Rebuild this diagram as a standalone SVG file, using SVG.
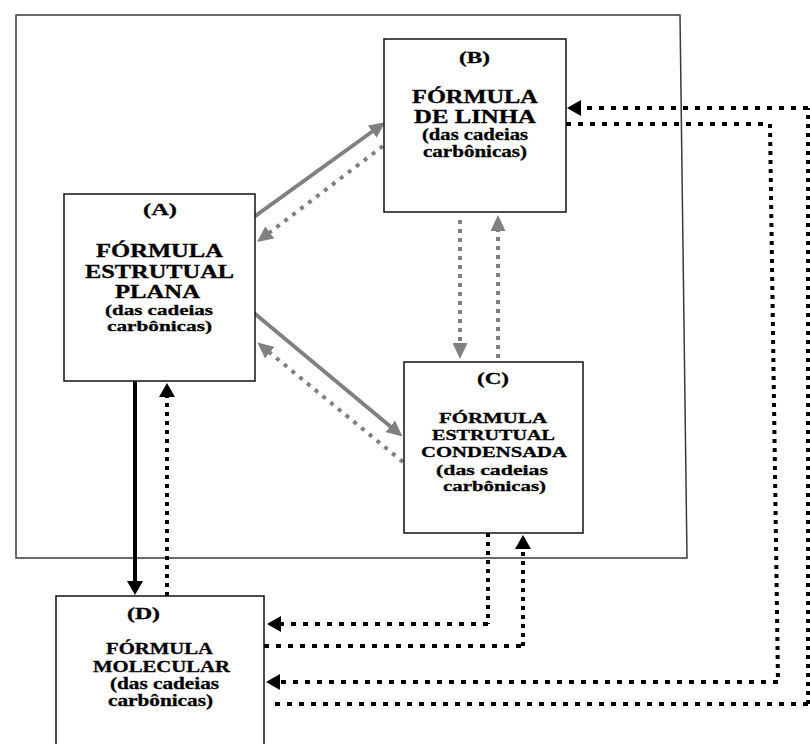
<svg xmlns="http://www.w3.org/2000/svg" width="810" height="744" viewBox="0 0 810 744">
  <defs>
    <style>
      .frame { fill: none; stroke: #3a3a3a; stroke-width: 1.5; }
      .box { fill: #ffffff; stroke: #111111; stroke-width: 1.5; }
      .t { font-family: "Liberation Serif", "Times New Roman", serif; font-weight: bold; fill: #000000; stroke: #000000; stroke-width: 0.3; }
      .g-solid { fill: none; stroke: #808080; stroke-width: 4; }
      .g-dot { fill: none; stroke: #808080; stroke-width: 4; stroke-dasharray: 4 6; }
      .g-dotv { fill: none; stroke: #808080; stroke-width: 4; stroke-dasharray: 4 5; }
      .k-solid { fill: none; stroke: #000000; stroke-width: 4; }
      .k-doth { fill: none; stroke: #000000; stroke-width: 4; stroke-dasharray: 5 7; }
      .k-dotv { fill: none; stroke: #000000; stroke-width: 4; stroke-dasharray: 4 5; }
    </style>
    <marker id="arrowGray" markerUnits="userSpaceOnUse" markerWidth="16" markerHeight="15" refX="1" refY="7.5" orient="auto">
      <path d="M0,0 L16,7.5 L0,15 z" fill="#808080"/>
    </marker>
    <marker id="arrowBlack" markerUnits="userSpaceOnUse" markerWidth="14" markerHeight="16" refX="1" refY="8" orient="auto">
      <path d="M0,0 L14,8 L0,16 z" fill="#000000"/>
    </marker>
  </defs>

  <rect width="810" height="744" fill="#ffffff"/>

  <!-- enclosing frame around A, B and C -->
  <path class="frame" d="M16,15 L680,15 L687,558 L16,558 Z"/>

  <!-- connectors -->
  <g id="connectors">
    <!-- A <-> B -->
    <line class="g-solid" x1="254" y1="217" x2="373" y2="131" marker-end="url(#arrowGray)"/>
    <line class="g-dot" x1="383" y1="146" x2="269" y2="233" marker-end="url(#arrowGray)"/>
    <!-- A <-> C -->
    <line class="g-solid" x1="254" y1="313" x2="391" y2="427" marker-end="url(#arrowGray)"/>
    <line class="g-dot" x1="403" y1="462" x2="269" y2="352" marker-end="url(#arrowGray)"/>
    <!-- B <-> C -->
    <line class="g-dotv" x1="460" y1="220" x2="460" y2="344" marker-end="url(#arrowGray)"/>
    <line class="g-dotv" x1="498" y1="358" x2="498" y2="230" marker-end="url(#arrowGray)"/>
    <!-- A <-> D -->
    <line class="k-solid" x1="135" y1="381" x2="135" y2="582" marker-end="url(#arrowBlack)"/>
    <line class="k-dotv" x1="167" y1="596" x2="167" y2="396" marker-end="url(#arrowBlack)"/>
    <!-- C -> D -->
    <g>
      <line class="k-dotv" x1="488" y1="533" x2="488" y2="624"/>
      <line class="k-doth" x1="488" y1="624" x2="280" y2="624" marker-end="url(#arrowBlack)"/>
    </g>
    <!-- D -> C -->
    <g>
      <line class="k-doth" x1="264" y1="646" x2="523" y2="646"/>
      <line class="k-dotv" x1="523" y1="646" x2="523" y2="548" marker-end="url(#arrowBlack)"/>
    </g>
    <!-- B -> D -->
    <g>
      <line class="k-doth" x1="566" y1="124" x2="770" y2="124"/>
      <line class="k-dotv" x1="770" y1="124" x2="778" y2="682"/>
      <line class="k-doth" x1="778" y1="682" x2="279" y2="682" marker-end="url(#arrowBlack)"/>
    </g>
    <!-- D -> B -->
    <g>
      <line class="k-doth" x1="275" y1="704" x2="808" y2="704"/>
      <line class="k-dotv" x1="808" y1="704" x2="808" y2="108"/>
      <line class="k-doth" x1="808" y1="108" x2="580" y2="108" marker-end="url(#arrowBlack)"/>
    </g>
  </g>

  <!-- (A) structural formula -->
  <g id="node-A">
    <rect class="box" x="64" y="194" width="191" height="187"/>
    <text class="t" x="143" y="215" font-size="16" textLength="34" lengthAdjust="spacingAndGlyphs">(A)</text>
    <text class="t" x="96" y="257" font-size="18" textLength="127" lengthAdjust="spacingAndGlyphs">FÓRMULA</text>
    <text class="t" x="85" y="278" font-size="18" textLength="149" lengthAdjust="spacingAndGlyphs">ESTRUTUAL</text>
    <text class="t" x="115" y="298" font-size="18" textLength="85" lengthAdjust="spacingAndGlyphs">PLANA</text>
    <text class="t" x="105" y="315" font-size="15" textLength="108" lengthAdjust="spacingAndGlyphs">(das cadeias</text>
    <text class="t" x="107" y="331" font-size="15" textLength="105" lengthAdjust="spacingAndGlyphs">carbônicas)</text>
  </g>

  <!-- (B) line formula -->
  <g id="node-B">
    <rect class="box" x="384" y="39" width="182" height="173"/>
    <text class="t" x="459" y="63" font-size="16" textLength="31" lengthAdjust="spacingAndGlyphs">(B)</text>
    <text class="t" x="412" y="103" font-size="18" textLength="126" lengthAdjust="spacingAndGlyphs">FÓRMULA</text>
    <text class="t" x="414" y="123" font-size="18" textLength="122" lengthAdjust="spacingAndGlyphs">DE LINHA</text>
    <text class="t" x="422" y="140" font-size="16" textLength="106" lengthAdjust="spacingAndGlyphs">(das cadeias</text>
    <text class="t" x="423" y="157" font-size="16" textLength="104" lengthAdjust="spacingAndGlyphs">carbônicas)</text>
  </g>

  <!-- (C) condensed structural formula -->
  <g id="node-C">
    <rect class="box" x="404" y="362" width="179" height="171"/>
    <text class="t" x="477" y="384" font-size="16" textLength="32" lengthAdjust="spacingAndGlyphs">(C)</text>
    <text class="t" x="439" y="423" font-size="15" textLength="108" lengthAdjust="spacingAndGlyphs">FÓRMULA</text>
    <text class="t" x="432" y="440" font-size="15" textLength="123" lengthAdjust="spacingAndGlyphs">ESTRUTUAL</text>
    <text class="t" x="421" y="457" font-size="15" textLength="146" lengthAdjust="spacingAndGlyphs">CONDENSADA</text>
    <text class="t" x="436" y="475" font-size="15" textLength="112" lengthAdjust="spacingAndGlyphs">(das cadeias</text>
    <text class="t" x="443" y="491" font-size="15" textLength="103" lengthAdjust="spacingAndGlyphs">carbônicas)</text>
  </g>

  <!-- (D) molecular formula -->
  <g id="node-D">
    <rect class="box" x="56" y="596" width="208" height="160"/>
    <text class="t" x="127" y="619" font-size="16" textLength="33" lengthAdjust="spacingAndGlyphs">(D)</text>
    <text class="t" x="106" y="654" font-size="16" textLength="107" lengthAdjust="spacingAndGlyphs">FÓRMULA</text>
    <text class="t" x="93" y="672" font-size="16" textLength="137" lengthAdjust="spacingAndGlyphs">MOLECULAR</text>
    <text class="t" x="110" y="689" font-size="16" textLength="109" lengthAdjust="spacingAndGlyphs">(das cadeias</text>
    <text class="t" x="108" y="706" font-size="16" textLength="105" lengthAdjust="spacingAndGlyphs">carbônicas)</text>
  </g>
</svg>
